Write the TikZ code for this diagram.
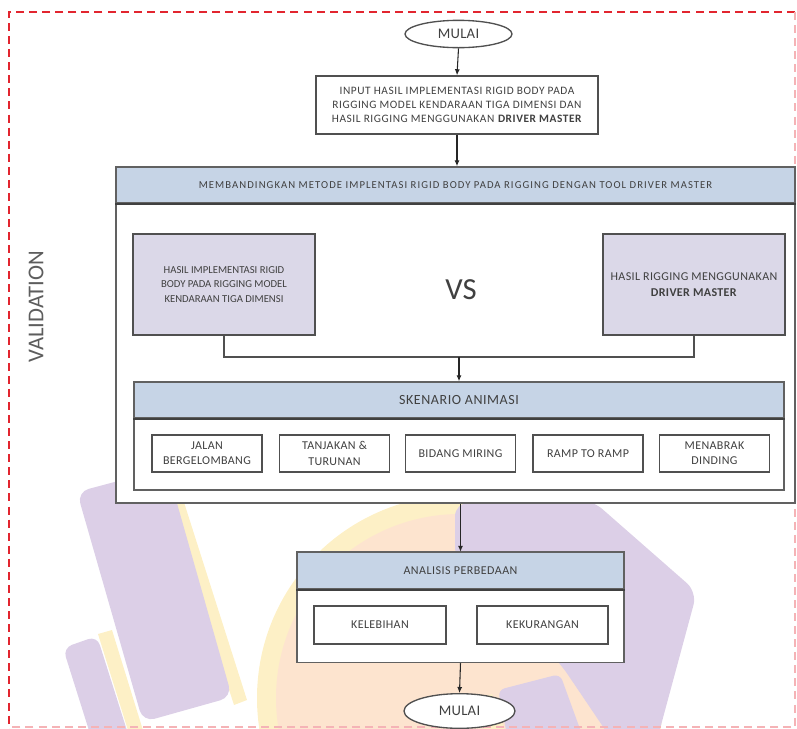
\documentclass[tikz,border=0pt]{standalone}
\usepackage{fontspec}
\setmainfont{Carlito}
\usetikzlibrary{arrows.meta,shapes.geometric,calc}
\definecolor{hdr}{HTML}{C6D4E6}
\definecolor{lav}{HTML}{DBD8E8}
\definecolor{edge}{HTML}{505050}
\definecolor{txt}{HTML}{404040}
\definecolor{wmpurple}{HTML}{DCCFE7}
\definecolor{wmyellow}{HTML}{FDF0C6}
\definecolor{wmorange}{HTML}{FDE4CF}
\definecolor{redd}{HTML}{E2252F}
\newcommand\fsz[3]{\fontsize{#1}{#2}\selectfont\addfontfeature{LetterSpace=#3}}
\tikzset{
  every node/.style={text=txt, inner sep=0pt},
  container/.style={draw=edge!90, line width=1.1pt, fill=white, rectangle},
  hdrbar/.style={draw=edge!90, line width=1.1pt, fill=hdr, rectangle},
  lavbox/.style={draw=edge, line width=1.1pt, fill=lav, rectangle, align=center},
  subbox/.style={draw=edge, line width=1pt, fill=white, rectangle, align=center, font=\fsz{9}{11.5}{3}},
  oval/.style={draw=edge, line width=1pt, fill=white, ellipse, font=\fsz{11}{12}{2}},
  flow/.style={draw=black!85, line width=0.8pt, -{Latex[length=4.5pt,width=3.8pt]}},
  link/.style={draw=edge, line width=1pt},
  hdrline/.style={draw=black!75, line width=1.6pt}
}
\begin{document}
\begin{tikzpicture}[x=0.75pt,y=-0.75pt]
\useasboundingbox (0,0) rectangle (797,729);
% ---------- watermark ----------
\begin{scope}
\clip (0,0) rectangle (797,729);
\fill[wmyellow] (460,698) circle[radius=152.25pt];
\fill[wmorange] (460,698) circle[radius=138pt];
\fill[wmyellow] (168,500) -- (182,496) -- (247,700) -- (234,705) -- cycle;
\fill[wmpurple, rounded corners=9pt] (77,492) -- (167,468) -- (232,697) -- (143,722) -- cycle;
\fill[wmyellow] (98,634) -- (112,630) -- (146,740) -- (131,740) -- cycle;
\fill[wmpurple, rounded corners=7pt] (63,648) -- (97,636) -- (130,740) -- (92,740) -- cycle;
\fill[wmpurple, rounded corners=10pt] (455,503) -- (592,500) -- (697,592) -- (657,740) -- (612,740) -- (560,663) -- (455,560) -- cycle;
\fill[wmyellow] (474,700) -- (492,694) -- (508,740) -- (488,740) -- cycle;
\fill[wmpurple, rounded corners=5pt] (498,690) -- (560,674) -- (584,740) -- (508,740) -- cycle;
\end{scope}
% ---------- outer dashed frame ----------
\draw[redd, line width=1.9pt, dash pattern=on 6pt off 3.8pt] (795,12) -- (9,12) -- (9,729);
\draw[redd!35, line width=1.4pt, dash pattern=on 6pt off 3.8pt] (795,12) -- (795,727) -- (9,727);
\node[text=txt!85, rotate=90, font=\fontsize{17}{20}\selectfont] (val) at (36,307) {VALIDATION};
% ---------- top ----------
\node[oval, minimum width=80.25pt, minimum height=20.5pt] (start) at (458.5,34) {MULAI};
\node[draw=edge, line width=1.1pt, fill=white, rectangle, align=center, minimum width=211.5pt, minimum height=43.5pt, font=\fsz{8.5}{10.6}{5}] (inp) at (457,105)
  {INPUT HASIL IMPLEMENTASI RIGID BODY PADA\\RIGGING MODEL KENDARAAN TIGA DIMENSI DAN\\HASIL RIGGING MENGGUNAKAN \textbf{DRIVER MASTER}};
% ---------- big comparison container ----------
\node[container, minimum width=509.25pt, minimum height=252pt] (cmp) at (455.5,335) {};
\node[hdrbar, minimum width=509.25pt, minimum height=27pt, font=\fsz{8}{9}{10}] (cmph) at (455.5,185)
  {MEMBANDINGKAN METODE IMPLENTASI RIGID BODY PADA RIGGING DENGAN TOOL DRIVER MASTER};
\draw[hdrline] (cmph.south west) -- (cmph.south east);
\node[lavbox, minimum width=136.5pt, minimum height=75.75pt, font=\fsz{8}{11}{0}] (lft) at (224,284.5)
  {HASIL IMPLEMENTASI RIGID\\BODY PADA RIGGING MODEL\\KENDARAAN TIGA DIMENSI};
\node[lavbox, minimum width=136.5pt, minimum height=75.75pt, font=\fsz{9}{12}{3}] (rgt) at (694,284.5)
  {HASIL RIGGING MENGGUNAKAN\\\textbf{DRIVER MASTER}};
\node[font=\fontsize{23}{26}\selectfont] (vs) at (461,290) {VS};
\coordinate (j) at (459,357);
% ---------- scenario ----------
\node[container, minimum width=487.5pt, minimum height=81pt] (scn) at (459,436) {};
\node[hdrbar, minimum width=487.5pt, minimum height=27pt, font=\fsz{10.5}{12}{4}] (scnh) at (459,400) {SKENARIO ANIMASI};
\draw[hdrline] (scnh.south west) -- (scnh.south east);
\node[subbox, minimum width=82.5pt, minimum height=27.75pt] (s1) at (207,453.5) {JALAN\\BERGELOMBANG};
\node[subbox, minimum width=82.5pt, minimum height=27.75pt] (s2) at (334.5,453.5) {TANJAKAN \&\\TURUNAN};
\node[subbox, minimum width=82.5pt, minimum height=27.75pt] (s3) at (460.5,453.5) {BIDANG MIRING};
\node[subbox, minimum width=82.5pt, minimum height=27.75pt] (s4) at (588,453.5) {RAMP TO RAMP};
\node[subbox, minimum width=82.5pt, minimum height=27.75pt] (s5) at (714.5,453.5) {MENABRAK\\DINDING};
% ---------- analysis ----------
\node[container, minimum width=245.25pt, minimum height=82.5pt] (ana) at (460.5,607.5) {};
\node[hdrbar, minimum width=245.25pt, minimum height=27.75pt, font=\fsz{9}{10}{4}] (anah) at (460.5,570.5) {ANALISIS PERBEDAAN};
\draw[hdrline] (anah.south west) -- (anah.south east);
\node[subbox, minimum width=99pt, minimum height=28.5pt] (kel) at (380,625) {KELEBIHAN};
\node[subbox, minimum width=98.25pt, minimum height=28.5pt] (kek) at (542.5,625) {KEKURANGAN};
\node[oval, minimum width=83.25pt, minimum height=26pt] (fin) at (459.5,711) {MULAI};
% ---------- connectors ----------
\draw[flow] (start.south) -- (inp.north);
\draw[flow] (inp.south) -- (inp.south |- cmph.north);
\draw[link] (lft.south) |- (j) -| (rgt.south);
\draw[flow] (j) -- (j |- scnh.north);
\draw[flow] (cmp.south -| ana.north) -- (ana.north);
\draw[flow] (ana.south) -- (fin.north);
\end{tikzpicture}
\end{document}
